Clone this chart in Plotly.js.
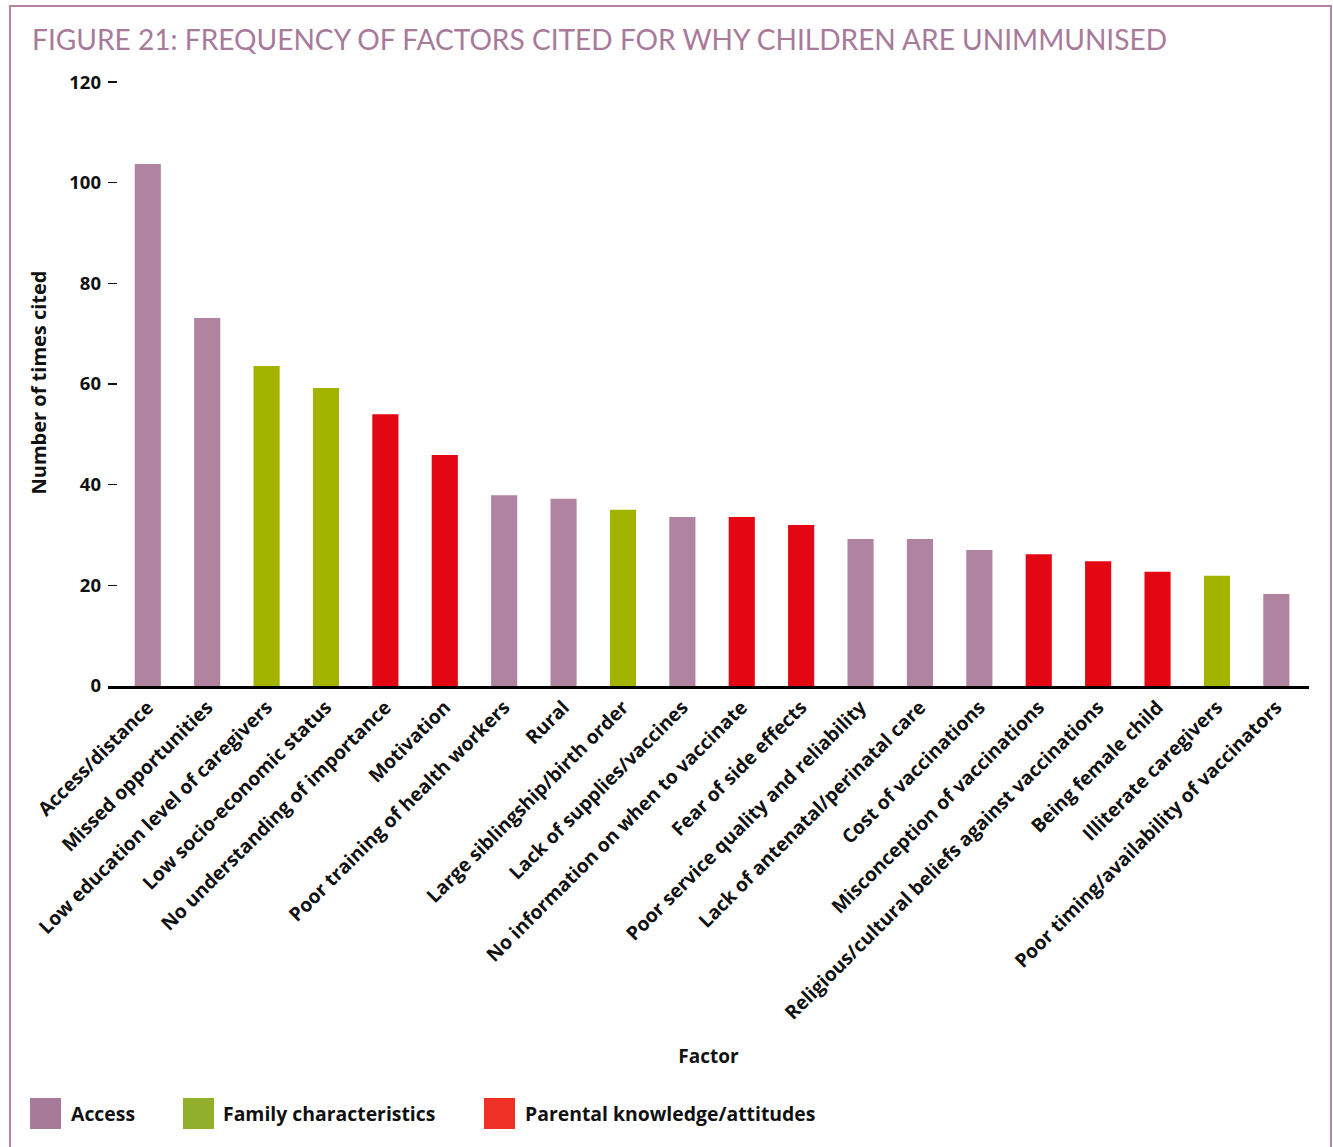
<!DOCTYPE html>
<html>
<head>
<meta charset="utf-8">
<script src="https://cdn.plot.ly/plotly-3.0.1.min.js"></script>
<style>
  html, body { margin: 0; padding: 0; background: #fff; }
  #wrap { position: relative; width: 1333px; height: 1147px; overflow: hidden; }
  #frame { position: absolute; left: 9px; top: 5px; width: 1323px; height: 1160px;
           border: 2.5px solid #B083A0; box-sizing: border-box; pointer-events: none; }
  #chart { position: absolute; left: 0; top: 0; width: 1333px; height: 1147px; }
</style>
</head>
<body>
<div id="wrap">
  <div id="chart"></div>
  <div id="frame"></div>
</div>
<script>
// ---- data ----
const factors = [
  "Access/distance",
  "Missed opportunities",
  "Low education level of caregivers",
  "Low socio-economic status",
  "No understanding of importance",
  "Motivation",
  "Poor training of health workers",
  "Rural",
  "Large siblingship/birth order",
  "Lack of supplies/vaccines",
  "No information on when to vaccinate",
  "Fear of side effects",
  "Poor service quality and reliability",
  "Lack of antenatal/perinatal care",
  "Cost of vaccinations",
  "Misconception of vaccinations",
  "Religious/cultural beliefs against vaccinations",
  "Being female child",
  "Illiterate caregivers",
  "Poor timing/availability of vaccinators"
];
const timesCited = [103.7, 73.1, 63.6, 59.2, 54.0, 45.9, 37.9, 37.2, 35.0, 33.6,
                    33.6, 32.0, 29.2, 29.2, 27.0, 26.2, 24.8, 22.7, 21.9, 18.3];
const factorGroup = ["Access", "Access", "Family characteristics", "Family characteristics",
  "Parental knowledge/attitudes", "Parental knowledge/attitudes", "Access", "Access",
  "Family characteristics", "Access", "Parental knowledge/attitudes", "Parental knowledge/attitudes",
  "Access", "Access", "Access", "Parental knowledge/attitudes", "Parental knowledge/attitudes",
  "Parental knowledge/attitudes", "Family characteristics", "Access"];
const groups = ["Access", "Family characteristics", "Parental knowledge/attitudes"];
const yTicks = [0, 20, 40, 60, 80, 100, 120];

// ---- styles ----
const barColors = {"Access": "#B083A0", "Family characteristics": "#A2B300", "Parental knowledge/attitudes": "#E30613"};
const legendColors = {"Access": "#A87A9A", "Family characteristics": "#93B02C", "Parental knowledge/attitudes": "#EE3124"};
const FONT = "'Open Sans', Lato, 'DejaVu Sans', sans-serif";
const TFONT = "Lato, 'Open Sans', sans-serif";

const traces = groups.map(g => {
  const xs = [], ys = [];
  factors.forEach((f, i) => { if (factorGroup[i] === g) { xs.push(f); ys.push(timesCited[i]); } });
  return {
    type: "bar", name: g, x: xs, y: ys, width: 0.44,
    marker: {color: barColors[g], line: {width: 0}},
    showlegend: false, hoverinfo: "x+y"
  };
});

// plot area in pixels
const YMAX = 120.6;
const L = 108, R = 1309, B = 686;
const T = Math.round(B - 604 * YMAX / 120);
const px2x = p => (p - L) / (R - L);
const py2y = p => (B - p) / (B - T);

const legendItems = [
  {g: "Access", sq: 30, tx: 69},
  {g: "Family characteristics", sq: 183, tx: 221},
  {g: "Parental knowledge/attitudes", sq: 484, tx: 523}
];
const shapes = legendItems.map(it => ({
  type: "rect", xref: "paper", yref: "paper",
  x0: px2x(it.sq), x1: px2x(it.sq + 31), y0: py2y(1129), y1: py2y(1098),
  fillcolor: legendColors[it.g], line: {width: 0}
}));
const annotations = legendItems.map(it => ({
  xref: "paper", yref: "paper", x: px2x(it.tx), y: py2y(1113),
  xanchor: "left", yanchor: "middle", showarrow: false,
  text: "<b>" + it.g + "</b>", font: {family: FONT, size: 19.4, color: "#111"}
}));

const layout = {
  width: 1333, height: 1147,
  margin: {l: L, r: 1333 - R, t: T, b: 1147 - B, pad: 0},
  paper_bgcolor: "#fff", plot_bgcolor: "#fff",
  font: {family: FONT, color: "#111"},
  title: {
    text: "FIGURE 21: FREQUENCY OF FACTORS CITED FOR WHY CHILDREN ARE UNIMMUNISED",
    xref: "container", yref: "container", x: 32 / 1333, xanchor: "left",
    y: 1 - 40 / 1147, yanchor: "middle",
    font: {family: TFONT, size: 28.1, color: "#A87A9A", weight: 400}
  },
  barmode: "overlay",
  xaxis: {
    type: "category", categoryorder: "array", categoryarray: factors,
    range: [-0.67, 19.55], tickangle: -45, showgrid: false, zeroline: false,
    showline: true, linecolor: "#000", linewidth: 2.5, ticks: "",
    tickfont: {family: FONT, size: 19.3, color: "#111", weight: 700},
    title: {text: "<b>Factor</b>", font: {family: FONT, size: 19, color: "#111"}, standoff: 26},
    automargin: false, fixedrange: true
  },
  yaxis: {
    range: [0, YMAX], tickvals: yTicks, ticktext: yTicks.map(String),
    ticks: "inside", ticklen: 9, tickwidth: 1.5, tickcolor: "#111",
    showgrid: false, zeroline: false, showline: false,
    tickfont: {family: FONT, size: 18.5, color: "#111", weight: 700},
    ticklabelstandoff: 6,
    title: {text: "<b>Number of times cited</b>", font: {family: FONT, size: 20, color: "#111"}, standoff: 17},
    automargin: false, fixedrange: true
  },
  shapes: shapes,
  annotations: annotations
};

Plotly.newPlot("chart", traces, layout, {displayModeBar: false, staticPlot: true});
</script>
</body>
</html>
